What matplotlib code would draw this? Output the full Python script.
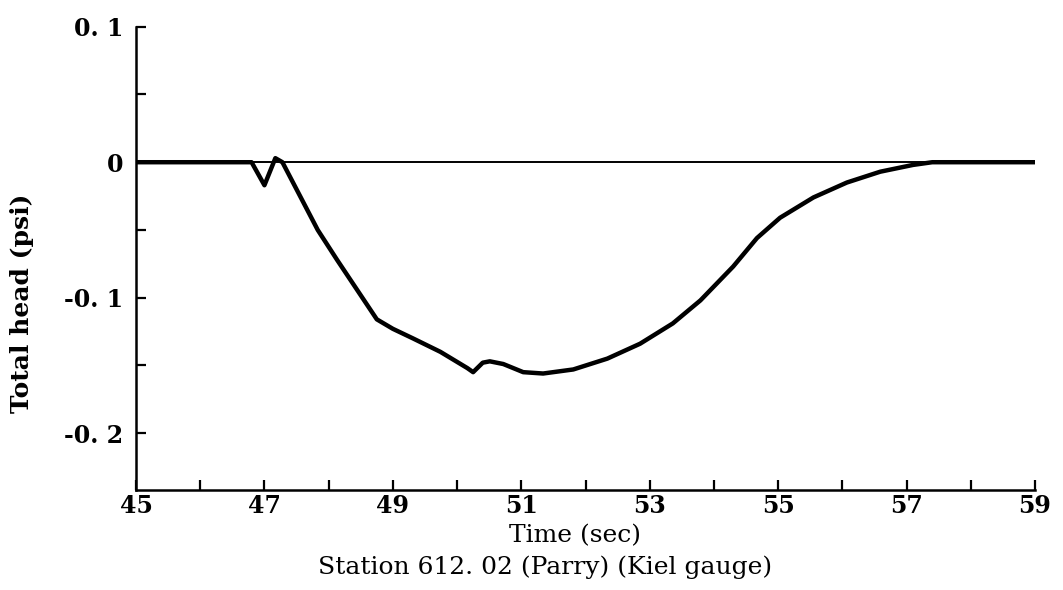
import matplotlib
matplotlib.use("Agg")
import matplotlib.pyplot as plt
from matplotlib.ticker import FixedLocator, FixedFormatter

# Data
time_s = [45.0, 46.8, 47.0, 47.17, 47.28, 47.83, 48.13, 48.75, 49.0, 49.31, 49.74,
          50.16, 50.25, 50.40, 50.51, 50.72, 51.03, 51.34, 51.81, 52.34, 52.85,
          53.36, 53.79, 54.30, 54.67, 55.03, 55.55, 56.07, 56.59, 57.10, 57.40,
          58.0, 59.0]
total_head = [0.0, 0.0, -0.017, 0.003, 0.0, -0.050, -0.072, -0.116, -0.123, -0.130, -0.140,
              -0.152, -0.155, -0.148, -0.147, -0.149, -0.155, -0.156, -0.153, -0.145, -0.134,
              -0.119, -0.102, -0.077, -0.056, -0.041, -0.026, -0.015, -0.007, -0.002, 0.0,
              0.0, 0.0]

x_ticks = [45, 46, 47, 48, 49, 50, 51, 52, 53, 54, 55, 56, 57, 58, 59]
x_labels = ["45", "", "47", "", "49", "", "51", "", "53", "", "55", "", "57", "", "59"]
y_ticks = [0.1, 0.05, 0.0, -0.05, -0.1, -0.15, -0.2]
y_labels = ["0. 1", "", "0", "", "-0. 1", "", "-0. 2"]

font = "DejaVu Serif"

fig = plt.figure(figsize=(10.63, 5.90), dpi=100)
ax = fig.add_axes([136 / 1063, 1 - 490 / 590, (1035 - 136) / 1063, (490 - 20) / 590])

ax.axhline(0, color="black", lw=1.4, zorder=2)
ax.plot(time_s, total_head, color="black", lw=3.2, solid_joinstyle="round",
        solid_capstyle="round", zorder=3)

ax.set_xlim(45, 59)
ax.set_ylim(-0.242, 0.105)

for side in ["top", "right"]:
    ax.spines[side].set_visible(False)
for side in ["left", "bottom"]:
    ax.spines[side].set_linewidth(1.8)
ax.spines["left"].set_bounds(-0.242, 0.1)

ax.xaxis.set_major_locator(FixedLocator(x_ticks))
ax.xaxis.set_major_formatter(FixedFormatter(x_labels))
ax.yaxis.set_major_locator(FixedLocator(y_ticks))
ax.yaxis.set_major_formatter(FixedFormatter(y_labels))
ax.tick_params(axis="both", direction="in", length=7, width=1.6, colors="black")
ax.tick_params(axis="x", pad=3)
ax.tick_params(axis="y", pad=9)
for lab in ax.get_xticklabels() + ax.get_yticklabels():
    lab.set_fontfamily(font)
    lab.set_fontweight("bold")
    lab.set_fontsize(17)

fig.text(22 / 1063, 1 - 303 / 590, "Total head (psi)", rotation=90, ha="center",
         va="center", fontfamily=font, fontweight="bold", fontsize=18)

fig.text(575 / 1063, 1 - 536 / 590, "Time (sec)", ha="center", va="center",
         fontfamily=font, fontsize=18)
fig.text(545 / 1063, 1 - 567 / 590, "Station 612. 02 (Parry) (Kiel gauge)",
         ha="center", va="center", fontfamily=font, fontsize=18)

fig.savefig("out.png", dpi=100, facecolor="white")
